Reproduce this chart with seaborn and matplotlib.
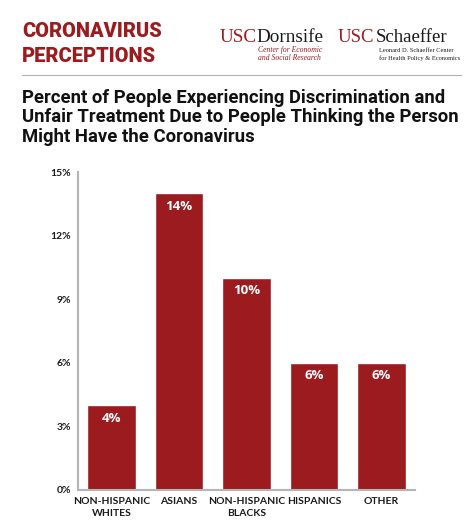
import matplotlib
matplotlib.use("Agg")
import matplotlib.pyplot as plt
import seaborn as sns
import pandas as pd

groups = ["NON-HISPANIC\nWHITES", "ASIANS", "NON-HISPANIC\nBLACKS", "HISPANICS", "OTHER"]
percents = [4, 14, 10, 6, 6]
y_ticks = [0, 3, 6, 9, 12, 15]

title_lines = ["Percent of People Experiencing Discrimination and",
               "Unfair Treatment Due to People Thinking the Person",
               "Might Have the Coronavirus"]

RED = "#9b1b1f"
DARK = "#1a1a1a"
W, H = 474, 523

sns.set_theme(style="white")
plt.rcParams['font.family'] = ['Lato', 'DejaVu Sans']

df = pd.DataFrame({"group": groups, "pct": percents})

fig = plt.figure(figsize=(4.74, 5.23), dpi=100)
ax = fig.add_axes([0.1646, 0.0631, 0.711, 0.608])

sns.barplot(data=df, x="group", y="pct", color=RED, saturation=1, width=0.72, ax=ax)

for i, v in enumerate(percents):
    ax.text(i, v - 0.3, f"{v}%", ha="center", va="top", color="white",
            fontsize=9.5, fontweight="bold", family=["Open Sans", "DejaVu Sans"])

ax.set_ylim(0, 15)
ax.set_xlim(-0.5, 4.5)
ax.set_yticks(y_ticks)
ax.set_yticklabels([f"{t}%" for t in y_ticks], fontsize=7.5, fontweight="bold", color=DARK)
ax.set_xticklabels(groups, fontsize=7.5, fontweight="bold", color=DARK, linespacing=1.4)
ax.tick_params(axis="both", length=0, pad=5)
ax.tick_params(axis="x", pad=5)
ax.set_xlabel("")
ax.set_ylabel("")
for s in ["top", "right"]:
    ax.spines[s].set_visible(False)
for s in ["left", "bottom"]:
    ax.spines[s].set_color("#b5b5b5")
    ax.spines[s].set_linewidth(1.5)

# header
for txt, base in [("CORONAVIRUS", 37), ("PERCEPTIONS", 62)]:
    fig.text(22 / W, 1 - base / H, txt, ha="left", va="baseline",
             fontsize=14.4, fontweight="black", color=RED,
             family=["Roboto", "DejaVu Sans"])
fig.add_artist(plt.Line2D([22 / W, 461 / W], [1 - 75 / H, 1 - 75 / H],
                          color="#b0b0b0", linewidth=0.8))

# logos as text
serif = ["Liberation Serif", "DejaVu Serif"]
t1 = fig.text(220 / W, 1 - 42 / H, "USC", ha="left", va="baseline", fontsize=13.8,
              color=RED, family=serif)
fig.canvas.draw()
bb = t1.get_window_extent()
fig.text(bb.x1 / W - 0.002, 1 - 42 / H, "Dornsife", ha="left", va="baseline",
         fontsize=13.8, color=DARK, family=serif)
for txt, base in [("Center for Economic", 52), ("and Social Research", 60)]:
    fig.text(258 / W, 1 - base / H, txt, ha="left", va="baseline", fontsize=5.5,
             color=RED, family=serif, style="italic")

t2 = fig.text(338 / W, 1 - 42 / H, "USC", ha="left", va="baseline", fontsize=13.5,
              color=RED, family=serif)
bb2 = t2.get_window_extent()
fig.text(bb2.x1 / W + 0.002, 1 - 42 / H, "Schaeffer", ha="left", va="baseline",
         fontsize=13.5, color=DARK, family=serif)
for txt, base in [("Leonard D. Schaeffer Center", 52), ("for Health Policy & Economics", 60)]:
    fig.text(379 / W, 1 - base / H, txt, ha="left", va="baseline", fontsize=4.6,
             color=DARK, family=serif)

# title
for k, line in enumerate(title_lines):
    fig.text(22 / W, 1 - (103 + 19.5 * k) / H, line, ha="left", va="baseline",
             fontsize=13.35, fontweight="bold", color="#111111",
             family=["Roboto", "DejaVu Sans"])

fig.savefig("out.png", dpi=100, facecolor="white")
